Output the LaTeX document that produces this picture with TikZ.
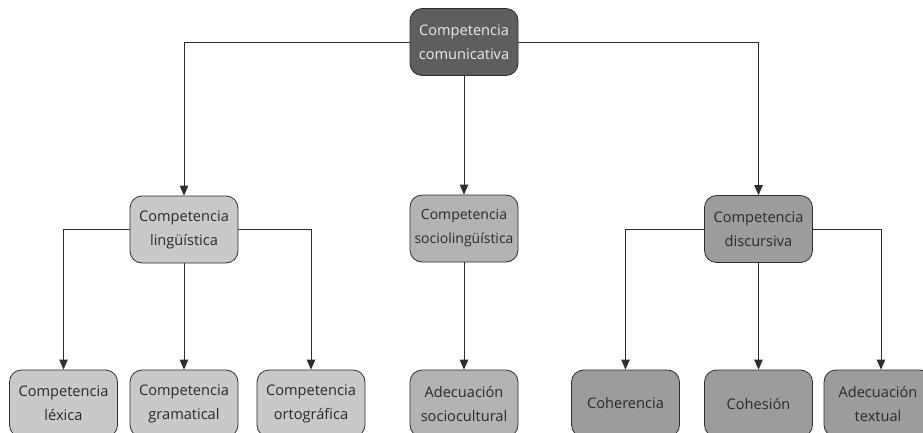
\documentclass[tikz,border=0pt]{standalone}
\usepackage{fontspec}
\setmainfont{Open Sans}
\usetikzlibrary{arrows.meta}
\definecolor{topfill}{HTML}{5E5E5E}
\definecolor{lightfill}{HTML}{C9C9C9}
\definecolor{midfill}{HTML}{B3B3B3}
\definecolor{darkfill}{HTML}{9C9C9C}
\definecolor{edgecol}{HTML}{2E2E2E}
\definecolor{txtcol}{HTML}{2A2A2A}
\tikzset{
  box/.style={draw=edgecol, line width=0.8pt, rounded corners=12pt,
    minimum width=108pt, minimum height=67pt, align=center, inner sep=1pt,
    text=txtcol, font=\fontsize{14.6}{24}\selectfont},
  topbox/.style={box, fill=topfill, text=white!92!black},
  lbox/.style={box, fill=lightfill},
  mbox/.style={box, fill=midfill},
  dbox/.style={box, fill=darkfill},
  arr/.style={draw=edgecol, line width=0.8pt, -{Triangle[length=10pt,width=8.5pt]}}
}
\begin{document}
\begin{tikzpicture}[x=1pt,y=-1pt]
\useasboundingbox (0,0) rectangle (923,433);
\clip (0,0) rectangle (923,433);
\node[topbox] (top) at (464,42) {Competencia\\comunicativa};
\node[lbox] (ling) at (184,229.5) {Competencia\\lingüística};
\node[mbox, font=\fontsize{14}{24}\selectfont] (socio) at (464,228.5) {Competencia\\sociolingüística};
\node[dbox] (disc) at (758.5,229) {Competencia\\discursiva};
\node[lbox] (lex) at (63.5,403.5) {Competencia\\léxica};
\node[lbox] (gram) at (184,403.5) {Competencia\\gramatical};
\node[lbox] (orto) at (311,403.5) {Competencia\\ortográfica};
\node[mbox] (adsoc) at (464,403.5) {Adecuación\\sociocultural};
\node[dbox] (coher) at (625.5,403.5) {Coherencia};
\node[dbox] (cohes) at (758.5,403.5) {Cohesión};
\node[dbox] (adtext) at (878,403.5) {Adecuación\\textual};
\draw[arr] (top.west) -| (ling.north);
\draw[arr] (top.south) -- (socio.north);
\draw[arr] (top.east) -| (disc.north);
\draw[arr] (ling.west) -| (lex.north);
\draw[arr] (ling.south) -- (gram.north);
\draw[arr] (ling.east) -| (orto.north);
\draw[arr] (socio.south) -- (adsoc.north);
\draw[arr] (disc.west) -| (coher.north);
\draw[arr] (disc.south) -- (cohes.north);
\draw[arr] (disc.east) -| ([xshift=3pt]adtext.north);
\end{tikzpicture}
\end{document}
